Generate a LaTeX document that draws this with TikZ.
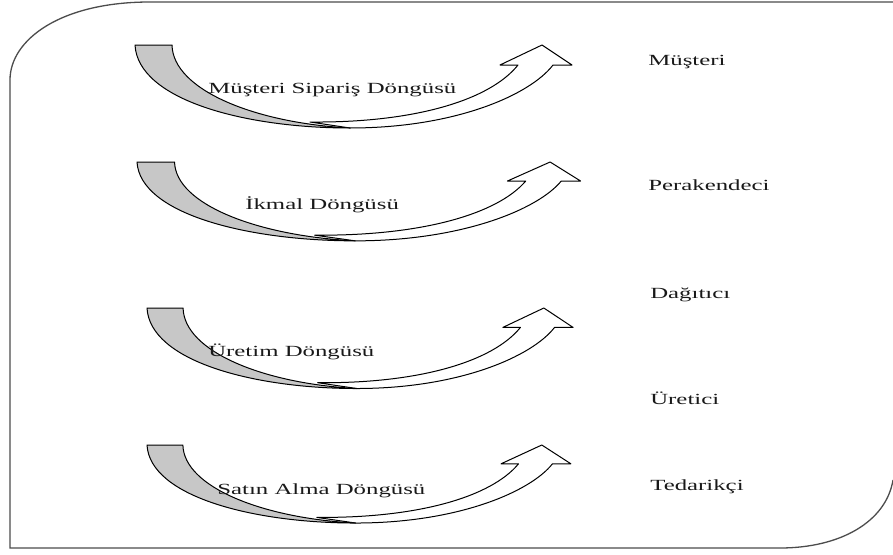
\documentclass[tikz,border=0pt]{standalone}
\usepackage{fontspec}
\setmainfont{Liberation Serif}
\usetikzlibrary{positioning}

\tikzset{
  outline/.style={draw=black, line width=1pt, line join=round},
  loopname/.style={font=\fontsize{15.5}{18}\selectfont, text=black!90, inner sep=0pt, anchor=west, xscale=1.6},
  stagename/.style={font=\fontsize{15.5}{18}\selectfont, text=black!90, inner sep=0pt, anchor=west, xscale=1.6},
  cyclearrow/.pic={
    % white band with open head
    \path[outline, fill=white] (215,83) .. controls (320,83) and (395,50) .. (418,20)
      -- (437,20) -- (407,0) -- (365,20) -- (383,20)
      .. controls (355,55) and (280,78) .. (175,77) -- cycle;
    % grey tail
    \path[outline, fill=black!22] (0,0) -- (37,0)
      .. controls (38,45) and (120,78) .. (215,83)
      .. controls (110,83) and (3,55) .. (0,0) -- cycle;
  }
}

\begin{document}
\begin{tikzpicture}[x=1pt, y=-1pt]
    \useasboundingbox (0,0) rectangle (893,554);

    % frame
    \draw[black!70, line width=1.3pt] (893,2) -- (150,2) .. controls (60,2) and (10,40) .. (10,80)
      -- (10,548) -- (780,548) .. controls (840,548) and (886,522) .. (893,480);

    \pic at (135,45) {cyclearrow};
    \pic[xscale=1.015, yscale=0.95] at (137,162) {cyclearrow};
    \pic[xscale=0.975, yscale=0.97] at (147,308) {cyclearrow};
    \pic[xscale=0.97, yscale=0.94] at (147,445) {cyclearrow};

    \node[loopname] (siparis) at (208,90) {Müşteri Sipariş Döngüsü};
    \node[loopname] (ikmal) at (245,205) {İkmal Döngüsü};
    \node[loopname] (uretim) at (208,352) {Üretim Döngüsü};
    \node[loopname] (satinalma) at (217,491) {Satın Alma Döngüsü};

    \node[stagename] (musteri) at (648,62) {Müşteri};
    \node[stagename] (perakendeci) at (648,185) {Perakendeci};
    \node[stagename] (dagitici) at (650,295) {Dağıtıcı};
    \node[stagename] (uretici) at (650,398) {Üretici};
    \node[stagename] (tedarikci) at (650,487) {Tedarikçi};
\end{tikzpicture}
\end{document}
